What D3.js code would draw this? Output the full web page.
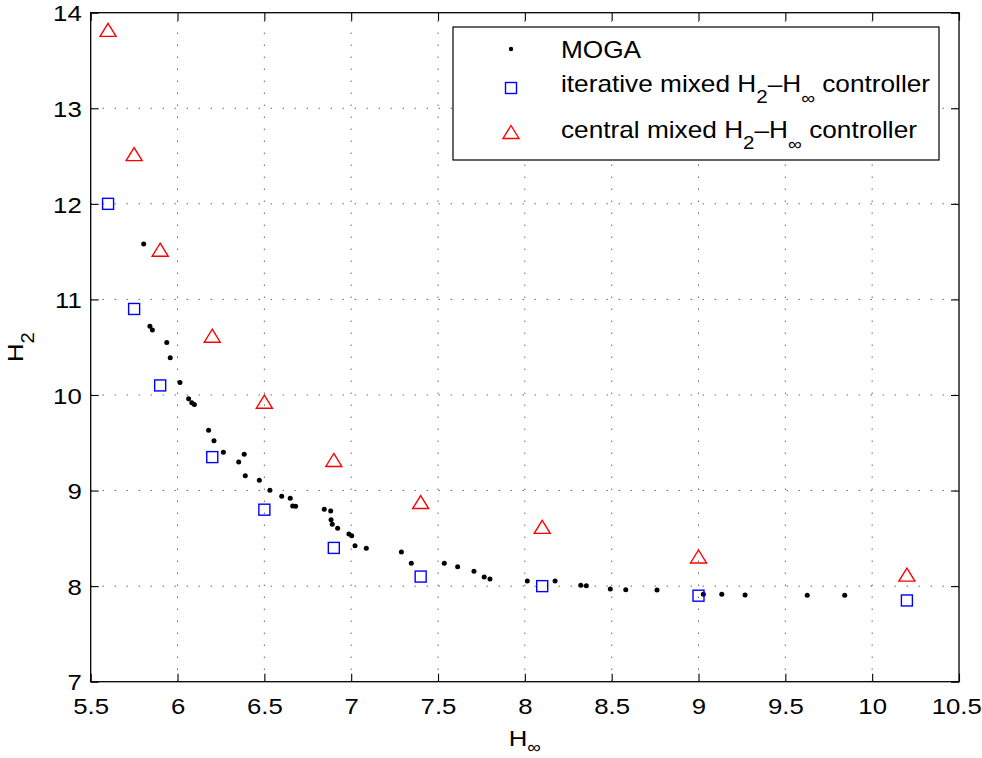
<!DOCTYPE html>
<html>
<head>
<meta charset="utf-8">
<script src="https://cdn.jsdelivr.net/npm/d3@7"></script>
<style>
  html, body { margin: 0; padding: 0; background: #fff; }
  svg { display: block; font-family: "Liberation Sans", Arial, Helvetica, sans-serif; }
</style>
</head>
<body>
<div id="chart"></div>
<script>
/* ── data ─────────────────────────────────────────────────── */
const xTicks = [5.5, 6, 6.5, 7, 7.5, 8, 8.5, 9, 9.5, 10, 10.5];
const yTicks = [7, 8, 9, 10, 11, 12, 13, 14];

// MOGA Pareto front (H_inf, H_2)
const mogaX = [5.805, 5.841, 5.855, 5.938, 5.958, 6.014, 6.064, 6.082, 6.097, 6.179,
               6.210, 6.264, 6.384, 6.352, 6.390, 6.471, 6.532, 6.600, 6.649, 6.663,
               6.680, 6.845, 6.882, 6.884, 6.891, 6.922, 6.987, 7.003, 7.022, 7.087,
               7.289, 7.346, 7.536, 7.613, 7.707, 7.766, 7.799, 8.014, 8.174, 8.322,
               8.354, 8.492, 8.581, 8.761, 9.028, 9.134, 9.268, 9.626, 9.842];
const mogaY = [11.58, 10.72, 10.68, 10.55, 10.39, 10.13, 9.96, 9.92, 9.90, 9.63,
               9.52, 9.40, 9.38, 9.30, 9.155, 9.107, 9.003, 8.94, 8.92, 8.838,
               8.835, 8.804, 8.786, 8.695, 8.647, 8.605, 8.545, 8.528, 8.423, 8.396,
               8.357, 8.239, 8.239, 8.203, 8.155, 8.096, 8.075, 8.054, 8.054, 8.009,
               8.004, 7.970, 7.963, 7.960, 7.914, 7.914, 7.907, 7.904, 7.904];

// controller designs share the same H_inf levels
const ctrlX      = [5.6, 5.75, 5.9, 6.2, 6.5, 6.9, 7.4, 8.1, 9.0, 10.2];
const iterativeY = [12.0, 10.9, 10.1, 9.35, 8.8, 8.4, 8.1, 8.0, 7.9, 7.85];
const centralY   = [13.82, 12.52, 11.52, 10.62, 9.93, 9.32, 8.88, 8.62, 8.31, 8.12];

/* ── layout ───────────────────────────────────────────────── */
const W = 982, H = 758;
const X0 = 90.7, X1 = 959, Y0 = 12.7, Y1 = 681.7;
const FS = 23, STRETCH = 1.12;   // fonts in the source are a bit wide
const BLUE = '#0000ff', RED = '#ff0000';

const svg = d3.select('#chart').append('svg')
  .attr('width', W).attr('height', H);

const x = d3.scaleLinear().domain([5.5, 10.5]).range([X0, X1]);
const y = d3.scaleLinear().domain([7, 14]).range([Y1, Y0]);

// ── grid ─────────────────────────────────────────────────────
const grid = svg.append('g').attr('stroke', '#222').attr('stroke-width', 1)
  .attr('stroke-dasharray', '1,11');
grid.selectAll('.vg').data(xTicks.slice(1, -1)).join('line')
  .attr('x1', d => x(d)).attr('x2', d => x(d))
  .attr('y1', Y1).attr('y2', Y0);
grid.selectAll('.hg').data(yTicks.slice(1, -1)).join('line')
  .attr('y1', d => y(d)).attr('y2', d => y(d))
  .attr('x1', X0).attr('x2', X1);

// ── axes (ticks point inwards, on all four sides) ────────────
function styleAxis(g) {
  g.select('.domain').remove();
  g.selectAll('line').attr('stroke', '#000').attr('stroke-width', 1.1);
  g.selectAll('text').attr('font-size', FS).attr('fill', '#000')
    .attr('font-family', '"Liberation Sans", Arial, Helvetica, sans-serif');
}

const xAxisG = svg.append('g').attr('transform', `translate(0,${Y1})`)
  .call(d3.axisBottom(x).tickValues(xTicks).tickSize(-8).tickPadding(16)
    .tickFormat(d3.format('')))
  .call(styleAxis);
xAxisG.selectAll('text').attr('transform', `scale(${STRETCH},1)`);
// last label sits on the window edge; nudge it in a little
xAxisG.selectAll('text').filter(d => d === 10.5).attr('x', -2.5);

const yAxisG = svg.append('g').attr('transform', `translate(${X0},0)`)
  .call(d3.axisLeft(y).tickValues(yTicks).tickSize(-8).tickPadding(8)
    .tickFormat(d3.format('')))
  .call(styleAxis);
yAxisG.selectAll('text').attr('transform', `scale(${STRETCH},1)`).attr('dy', '0.36em');

svg.append('g').attr('transform', `translate(0,${Y0})`)
  .call(d3.axisTop(x).tickValues(xTicks).tickSize(-8).tickFormat(''))
  .call(styleAxis);
svg.append('g').attr('transform', `translate(${X1},0)`)
  .call(d3.axisRight(y).tickValues(yTicks).tickSize(-8).tickFormat(''))
  .call(styleAxis);

svg.append('rect')
  .attr('x', X0).attr('y', Y0).attr('width', X1 - X0).attr('height', Y1 - Y0)
  .attr('fill', 'none').attr('stroke', '#000').attr('stroke-width', 1.3);

// ── axis labels ──────────────────────────────────────────────
const xl = svg.append('text')
  .attr('transform', `translate(${(X0 + X1) / 2},746) scale(${STRETCH},1)`)
  .attr('text-anchor', 'middle').attr('font-size', FS);
xl.append('tspan').text('H');
xl.append('tspan').attr('font-size', 17).attr('dy', 7).text('∞');

const yl = svg.append('text')
  .attr('transform', `translate(23,${(Y0 + Y1) / 2}) rotate(-90) scale(${STRETCH},1)`)
  .attr('text-anchor', 'middle').attr('font-size', FS);
yl.append('tspan').text('H');
yl.append('tspan').attr('font-size', 18).attr('dy', 11).text('2');

// ── marks ────────────────────────────────────────────────────
const plot = svg.append('g');
const triPath = 'M0,-6.5L8,6.5L-8,6.5Z';

plot.selectAll('.moga').data(d3.zip(mogaX, mogaY)).join('circle')
  .attr('class', 'moga')
  .attr('cx', d => x(d[0])).attr('cy', d => y(d[1]))
  .attr('r', 2.5).attr('fill', '#000');

plot.selectAll('.iter').data(d3.zip(ctrlX, iterativeY)).join('rect')
  .attr('class', 'iter')
  .attr('x', d => x(d[0]) - 5.5).attr('y', d => y(d[1]) - 5.5)
  .attr('width', 11).attr('height', 11)
  .attr('fill', 'none').attr('stroke', BLUE).attr('stroke-width', 1.4);

plot.selectAll('.central').data(d3.zip(ctrlX, centralY)).join('path')
  .attr('class', 'central')
  .attr('transform', d => `translate(${x(d[0])},${y(d[1])})`)
  .attr('d', triPath)
  .attr('fill', 'none').attr('stroke', RED).attr('stroke-width', 1.4);

// ── legend ───────────────────────────────────────────────────
const lg = svg.append('g');
lg.append('rect')
  .attr('x', 453).attr('y', 27).attr('width', 486).attr('height', 133)
  .attr('fill', '#fff').attr('stroke', '#000').attr('stroke-width', 1.2);

lg.append('circle').attr('cx', 511).attr('cy', 49).attr('r', 2.2).attr('fill', '#000');
lg.append('rect').attr('x', 511 - 5.5).attr('y', 88 - 5.5).attr('width', 11).attr('height', 11)
  .attr('fill', 'none').attr('stroke', BLUE).attr('stroke-width', 1.4);
lg.append('path').attr('transform', 'translate(511,132)').attr('d', triPath)
  .attr('fill', 'none').attr('stroke', RED).attr('stroke-width', 1.4);

function legendText(yPos, parts) {
  const t = lg.append('text')
    .attr('transform', `translate(561,${yPos}) scale(1.14,1)`)
    .attr('font-size', FS);
  parts.forEach(p => {
    const s = t.append('tspan').text(p.t);
    if (p.fs) s.attr('font-size', p.fs);
    if (p.dy) s.attr('dy', p.dy);
  });
}

legendText(58, [{ t: 'MOGA' }]);
legendText(92, [
  { t: 'iterative mixed H' }, { t: '2', fs: 18, dy: 11 },
  { t: '–H', dy: -11 }, { t: '∞', fs: 17, dy: 12 }, { t: ' controller', dy: -12 }
]);
legendText(138, [
  { t: 'central mixed H' }, { t: '2', fs: 18, dy: 11 },
  { t: '–H', dy: -11 }, { t: '∞', fs: 17, dy: 12 }, { t: ' controller', dy: -12 }
]);
</script>
</body>
</html>
